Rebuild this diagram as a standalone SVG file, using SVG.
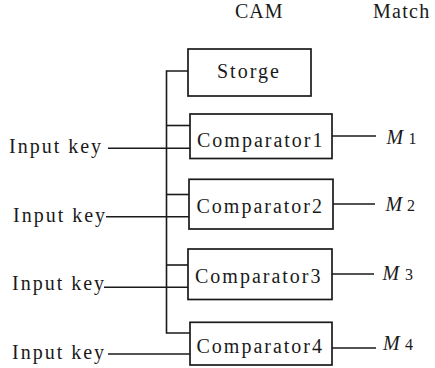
<svg xmlns="http://www.w3.org/2000/svg" width="435" height="368" viewBox="0 0 435 368">
  <style>
    .box { fill: #fff; stroke: #1a1a1a; stroke-width: 1.7; }
    .wire { fill: none; stroke: #1a1a1a; stroke-width: 1.6; }
    text { font-family: 'Liberation Serif', 'DejaVu Serif', serif; fill: #1a1a1a; }
    .lbl { font-size: 20px; letter-spacing: 2px; }
    .head { font-size: 20px; }
    .m { font-size: 20px; font-style: italic; }
    .sub { font-size: 16px; }
  </style>

  <!-- column headings -->
  <text class="head" x="235" y="18" letter-spacing="1">CAM</text>
  <text class="head" x="373" y="18" letter-spacing="1.3">Match</text>

  <!-- connectors -->
  <g id="connectors">
    <!-- shared bus feeding the stored word -->
    <path class="wire" d="M188,71 H166.5 V333 H190"/>
    <path class="wire" d="M166.5,125.5 H190"/>
    <path class="wire" d="M166.5,194.5 H189"/>
    <path class="wire" d="M166.5,265 H188"/>
    <!-- key inputs -->
    <path class="wire" d="M108,148.3 H190"/>
    <path class="wire" d="M106,216.7 H189"/>
    <path class="wire" d="M104,287.3 H188"/>
    <path class="wire" d="M108,354 H190"/>
    <!-- match outputs -->
    <path class="wire" d="M332,136 H376"/>
    <path class="wire" d="M333,204 H375"/>
    <path class="wire" d="M332,274 H374"/>
    <path class="wire" d="M332,348 H376"/>
  </g>

  <g id="storge">
    <rect class="box" x="188" y="49" width="123" height="47"/>
    <text class="lbl" x="217" y="78">Storge</text>
  </g>

  <g id="comparator1">
    <rect class="box" x="190" y="114" width="142" height="44.5"/>
    <text class="lbl" x="197" y="146.5">Comparator1</text>
  </g>
  <g id="comparator2">
    <rect class="box" x="189" y="179.3" width="144" height="49.7"/>
    <text class="lbl" x="196.5" y="213">Comparator2</text>
  </g>
  <g id="comparator3">
    <rect class="box" x="188" y="249" width="144" height="50.5"/>
    <text class="lbl" x="195" y="283">Comparator3</text>
  </g>
  <g id="comparator4">
    <rect class="box" x="190" y="322.3" width="142" height="42.7"/>
    <text class="lbl" x="196.5" y="353">Comparator4</text>
  </g>

  <!-- key input labels -->
  <g id="key1"><text class="lbl" x="9" y="153">Input key</text></g>
  <g id="key2"><text class="lbl" x="13" y="221.7">Input key</text></g>
  <g id="key3"><text class="lbl" x="12" y="290">Input key</text></g>
  <g id="key4"><text class="lbl" x="12" y="359">Input key</text></g>

  <!-- match outputs -->
  <g id="m1"><text class="m" x="386.5" y="144">M</text><text class="sub" x="408.5" y="144">1</text></g>
  <g id="m2"><text class="m" x="385.5" y="211">M</text><text class="sub" x="407" y="211">2</text></g>
  <g id="m3"><text class="m" x="382.5" y="279.5">M</text><text class="sub" x="405" y="279.5">3</text></g>
  <g id="m4"><text class="m" x="383" y="350">M</text><text class="sub" x="405" y="350">4</text></g>
</svg>
